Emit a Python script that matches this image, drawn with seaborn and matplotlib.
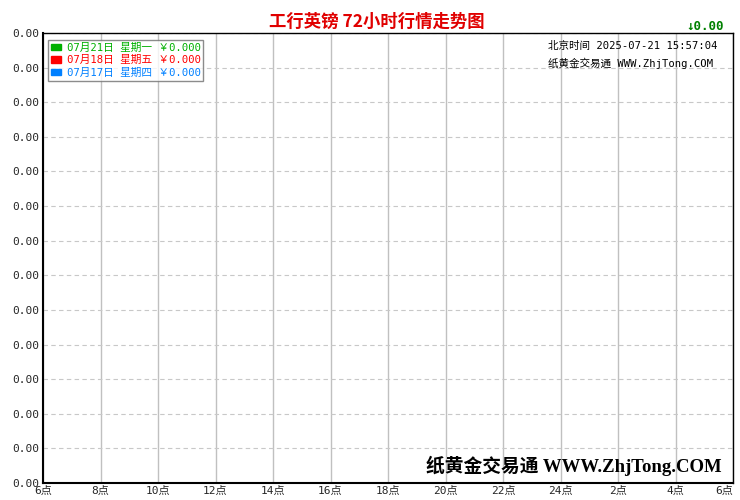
import matplotlib
matplotlib.use('Agg')
from matplotlib import pyplot as plt
from matplotlib.patches import Patch
import seaborn as sns
import pandas as pd

# chart data
hour_labels = ['6点', '8点', '10点', '12点', '14点', '16点', '18点',
               '20点', '22点', '24点', '2点', '4点', '6点']
y_labels = ['0.00'] * 14
dates = ['07月21日', '07月18日', '07月17日']
weekdays = ['星期一', '星期五', '星期四']
prices = [0.000, 0.000, 0.000]
colors = ['#00b000', '#ff0000', '#0080ff']
# no trading points were drawn in the reference
series_x = [[], [], []]
series_y = [[], [], []]

sns.set_style('white')
plt.rcParams['font.family'] = ['DejaVu Sans Mono', 'Noto Sans CJK SC']

fig = plt.figure(figsize=(7.4, 5), dpi=100)
ax = fig.add_axes([43 / 740, 17 / 500, 690 / 740, 450 / 500])

for xs, ys, c in zip(series_x, series_y, colors):
    df = pd.DataFrame({'x': xs, 'y': ys})
    ax.plot(df['x'], df['y'], color=c, lw=1)

ax.set_xlim(0, len(hour_labels) - 1)
ax.set_ylim(0, len(y_labels) - 1)
ax.set_xticks(range(len(hour_labels)))
ax.set_xticklabels(hour_labels, fontsize=8)
ax.set_yticks(range(len(y_labels)))
ax.set_yticklabels(y_labels, fontsize=8)
ax.tick_params(length=0, pad=3)
ax.tick_params(axis='x', pad=2)
# keep the last hour label inside the canvas
ax.get_xticklabels()[-1].set_horizontalalignment('right')
ax.get_xticklabels()[-1].set_x(len(hour_labels) - 1 + 0.2)

ax.grid(axis='x', color='#c0c0c0', lw=1, ls='-')
ax.grid(axis='y', color='#c8c8c8', lw=0.8, ls=(0, (4, 3)))
for s in ax.spines.values():
    s.set_color('black')
    s.set_linewidth(1)
ax.spines['left'].set_linewidth(1.5)
ax.spines['bottom'].set_linewidth(1.5)

fig.text(377 / 740, 1 - 22 / 500, '工行英镑 72小时行情走势图', color='#e00000',
         fontsize=12.5, ha='center', va='center',
         family=['Noto Sans CJK SC'], weight='bold')
fig.text(705 / 740, 1 - 27 / 500, '↓0.00', color='#008000', fontsize=9,
         ha='center', va='center', weight='bold')

handles = [Patch(facecolor=c, edgecolor=c) for c in colors]
labels = [f'{d} {w} ￥{p:.3f}' for d, w, p in zip(dates, weekdays, prices)]
leg = ax.legend(handles, labels, loc='upper left', bbox_to_anchor=(0.007, 0.985),
                fontsize=7.7, frameon=True, fancybox=False, labelcolor=colors,
                handlelength=1.0, handleheight=0.5, handletextpad=0.5,
                labelspacing=0.25, borderpad=0.25, borderaxespad=0)
leg.get_frame().set_edgecolor('#707070')
leg.get_frame().set_linewidth(1)

ax.text((548 - 43) / 690, 1 - (46 - 33) / 450,
        '北京时间 2025-07-21 15:57:04', transform=ax.transAxes,
        fontsize=7.6, ha='left', va='center', color='black')
ax.text((548 - 43) / 690, 1 - (63 - 33) / 450,
        '纸黄金交易通 WWW.ZhjTong.COM', transform=ax.transAxes,
        fontsize=7.6, ha='left', va='center', color='black')

ax.text((722 - 43) / 690, (483 - 466) / 450, '纸黄金交易通 WWW.ZhjTong.COM',
        transform=ax.transAxes, fontsize=13.5, ha='right', va='center',
        color='black', weight='bold',
        family=['Liberation Serif', 'Noto Sans CJK SC'])

fig.savefig('out.png', dpi=100, facecolor='white')
